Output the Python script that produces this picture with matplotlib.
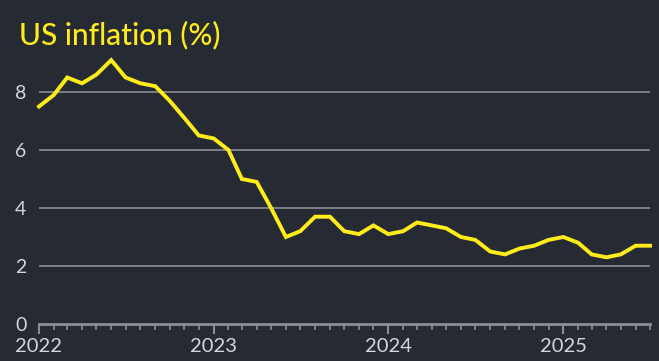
import numpy as np
import pandas as pd
import matplotlib
matplotlib.use("Agg")
import matplotlib.pyplot as plt
import matplotlib.dates as mdates

# monthly US CPI inflation, Jan 2022 - Jul 2025
months = pd.date_range("2022-01-01", "2025-07-01", freq="MS")
inflation = [7.5, 7.9, 8.5, 8.3, 8.6, 9.1, 8.5, 8.3, 8.2, 7.7, 7.1, 6.5,
             6.4, 6.0, 5.0, 4.9, 4.0, 3.0, 3.2, 3.7, 3.7, 3.2, 3.1, 3.4,
             3.1, 3.2, 3.5, 3.4, 3.3, 3.0, 2.9, 2.5, 2.4, 2.6, 2.7, 2.9,
             3.0, 2.8, 2.4, 2.3, 2.4, 2.7, 2.7]
y_ticks = [0, 2, 4, 6, 8]
year_ticks = pd.to_datetime(["2022-01-01", "2023-01-01", "2024-01-01", "2025-01-01"])
year_labels = ["2022", "2023", "2024", "2025"]

bg = "#262a33"
yellow = "#ffec1a"
grid_col = "#8b8e95"
text_col = "#d4d6dc"

plt.rcParams["font.family"] = ["Lato", "DejaVu Sans"]

W, H = 659, 361
fig = plt.figure(figsize=(W / 100, H / 100), dpi=100, facecolor=bg)
ymax = 9.3
left, right, bottom = 39, 650, 324
top = bottom - ymax * 29
ax = fig.add_axes([left / W, 1 - bottom / H, (right - left) / W, (bottom - top) / H])
ax.set_facecolor(bg)

ax.plot(months, inflation, color=yellow, lw=2.8, solid_joinstyle="miter", clip_on=False, zorder=3)

ax.set_ylim(0, ymax)
ax.set_xlim(months[0], months[-1])

for v in y_ticks[1:]:
    ax.axhline(v, color=grid_col, lw=1.2, zorder=1)

for s in ["top", "right", "left"]:
    ax.spines[s].set_visible(False)
ax.spines["bottom"].set_color(grid_col)
ax.spines["bottom"].set_linewidth(2)

ax.set_yticks(y_ticks)
ax.set_yticklabels([str(v) for v in y_ticks])
ax.tick_params(axis="y", length=0, pad=9, labelsize=14, labelcolor=text_col)

ax.set_xticks(year_ticks)
ax.set_xticklabels(year_labels)
ax.xaxis.set_minor_locator(mdates.MonthLocator())
ax.tick_params(axis="x", which="major", length=7, width=1.5, color=grid_col,
               labelsize=14.5, labelcolor=text_col, pad=3)
ax.tick_params(axis="x", which="minor", length=4, width=1.2, color=grid_col)

fig.text(19 / W, 1 - 44 / H, "US inflation (%)", color=yellow, fontsize=21.5,
         fontweight="medium", ha="left", va="baseline")

fig.savefig("out.png", dpi=100, facecolor=bg)
